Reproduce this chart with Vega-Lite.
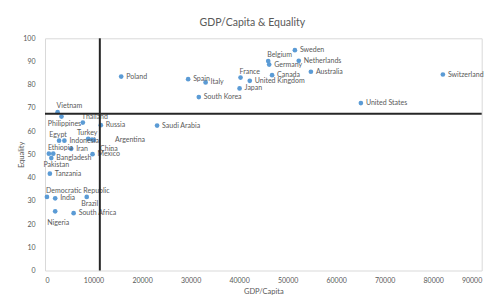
{
  "$schema": "https://vega.github.io/schema/vega-lite/v6.json",
  "width": 436.7,
  "height": 232.2,
  "autosize": "none",
  "padding": {"left": 45, "top": 38.3, "right": 11.3, "bottom": 30.5},
  "title": {"text": "GDP/Capita & Equality", "fontSize": 10.5, "font": "Lato", "fontWeight": "normal", "color": "#595959", "offset": 6, "dx": -11, "anchor": "middle"},
  "datasets": {
    "countries": [
      {"country": "Sweden", "gdp": 51500, "eq": 94.9},
      {"country": "Belgium", "gdp": 46000, "eq": 90.2},
      {"country": "Germany", "gdp": 46200, "eq": 88.7},
      {"country": "Netherlands", "gdp": 52300, "eq": 90.3},
      {"country": "Australia", "gdp": 54800, "eq": 85.6},
      {"country": "Canada", "gdp": 46800, "eq": 84.1},
      {"country": "France", "gdp": 40300, "eq": 83.1},
      {"country": "United Kingdom", "gdp": 42200, "eq": 81.7},
      {"country": "Japan", "gdp": 40100, "eq": 78.4},
      {"country": "Spain", "gdp": 29500, "eq": 82.4},
      {"country": "Italy", "gdp": 33100, "eq": 81.0},
      {"country": "South Korea", "gdp": 31700, "eq": 74.7},
      {"country": "Switzerland", "gdp": 82000, "eq": 84.4},
      {"country": "United States", "gdp": 65100, "eq": 72.1},
      {"country": "Poland", "gdp": 15700, "eq": 83.5},
      {"country": "Saudi Arabia", "gdp": 23100, "eq": 62.4},
      {"country": "Russia", "gdp": 11500, "eq": 62.6},
      {"country": "Thailand", "gdp": 7800, "eq": 63.7},
      {"country": "Vietnam", "gdp": 2600, "eq": 68.2},
      {"country": "Philippines", "gdp": 3400, "eq": 66.3},
      {"country": "Egypt", "gdp": 2900, "eq": 55.9},
      {"country": "Indonesia", "gdp": 4000, "eq": 55.9},
      {"country": "Turkey", "gdp": 8900, "eq": 56.7},
      {"country": "China", "gdp": 9700, "eq": 56.4},
      {"country": "Argentina", "gdp": 10100, "eq": 56.2},
      {"country": "Iran", "gdp": 5400, "eq": 52.4},
      {"country": "Ethiopia", "gdp": 800, "eq": 50.3},
      {"country": "Pakistan", "gdp": 1700, "eq": 50.3},
      {"country": "Bangladesh", "gdp": 1300, "eq": 48.4},
      {"country": "Mexico", "gdp": 9800, "eq": 50.1},
      {"country": "Tanzania", "gdp": 1000, "eq": 41.7},
      {"country": "Democratic Republic", "gdp": 400, "eq": 31.7},
      {"country": "India", "gdp": 2100, "eq": 31.1},
      {"country": "Brazil", "gdp": 8600, "eq": 31.7},
      {"country": "Nigeria", "gdp": 2100, "eq": 25.5},
      {"country": "South Africa", "gdp": 5900, "eq": 24.7}
    ],
    "refx": [{"gdp": 11300}],
    "refy": [{"eq": 67.5}]
  },
  "layer": [
    {
      "data": {"name": "countries"},
      "layer": [
        {"mark": {"type": "point", "filled": true, "size": 22, "color": "#5B9BD5", "opacity": 1}},
        {
          "transform": [{"filter": {"field": "country", "oneOf": ["Sweden", "Netherlands", "Australia", "Germany", "Canada", "United Kingdom", "Japan", "Spain", "Italy", "South Korea", "Switzerland", "United States", "Poland", "Saudi Arabia", "Russia", "Indonesia", "Iran", "Mexico", "Tanzania", "India", "South Africa", "Bangladesh"]}}],
          "mark": {"type": "text", "align": "left", "baseline": "middle", "dx": 5},
          "encoding": {"text": {"field": "country"}}
        },
        {
          "transform": [{"filter": {"field": "country", "oneOf": ["Belgium", "France", "Democratic Republic", "Thailand", "Vietnam", "Ethiopia"]}}],
          "mark": {"type": "text", "align": "left", "baseline": "middle", "dx": -1, "dy": -6},
          "encoding": {"text": {"field": "country"}}
        },
        {
          "transform": [{"filter": {"field": "country", "oneOf": ["Egypt", "Turkey"]}}],
          "mark": {"type": "text", "align": "center", "baseline": "middle", "dx": -1, "dy": -6},
          "encoding": {"text": {"field": "country"}}
        },
        {
          "transform": [{"filter": {"field": "country", "oneOf": ["Philippines", "Brazil"]}}],
          "mark": {"type": "text", "align": "center", "baseline": "middle", "dx": 3, "dy": 7},
          "encoding": {"text": {"field": "country"}}
        },
        {
          "transform": [{"filter": {"field": "country", "oneOf": ["Nigeria", "Pakistan"]}}],
          "mark": {"type": "text", "align": "center", "baseline": "middle", "dx": 3, "dy": 11.5},
          "encoding": {"text": {"field": "country"}}
        },
        {
          "transform": [{"filter": {"field": "country", "oneOf": ["Argentina"]}}],
          "mark": {"type": "text", "align": "left", "baseline": "middle", "dx": 21, "dy": 0},
          "encoding": {"text": {"field": "country"}}
        },
        {
          "transform": [{"filter": {"field": "country", "oneOf": ["China"]}}],
          "mark": {"type": "text", "align": "left", "baseline": "middle", "dx": 8, "dy": 9},
          "encoding": {"text": {"field": "country"}}
        }
      ],
      "encoding": {
        "x": {"field": "gdp", "type": "quantitative", "scale": {"domain": [0, 90000], "nice": false}, "title": "GDP/Capita",
          "axis": {"values": [0, 10000, 20000, 30000, 40000, 50000, 60000, 70000, 80000, 90000], "format": "d", "labelOverlap": false, "titlePadding": 4, "labelPadding": 6}},
        "y": {"field": "eq", "type": "quantitative", "scale": {"domain": [0, 100], "nice": false}, "title": "Equality",
          "axis": {"values": [0, 10, 20, 30, 40, 50, 60, 70, 80, 90, 100], "labelOverlap": false, "titlePadding": -3, "labelPadding": 10}}
      }
    },
    {
      "data": {"name": "refx"},
      "mark": {"type": "rule", "color": "#262626", "strokeWidth": 2},
      "encoding": {"x": {"field": "gdp", "type": "quantitative", "title": "GDP/Capita",
          "axis": {"values": [0, 10000, 20000, 30000, 40000, 50000, 60000, 70000, 80000, 90000], "format": "d", "labelOverlap": false, "titlePadding": 4, "labelPadding": 6}}}
    },
    {
      "data": {"name": "refy"},
      "mark": {"type": "rule", "color": "#262626", "strokeWidth": 2},
      "encoding": {"y": {"field": "eq", "type": "quantitative", "title": "Equality",
          "axis": {"values": [0, 10, 20, 30, 40, 50, 60, 70, 80, 90, 100], "labelOverlap": false, "titlePadding": -3, "labelPadding": 10}}}
    }
  ],
  "config": {
    "font": "Lato",
    "view": {"stroke": "#d9d9d9", "strokeWidth": 1},
    "text": {"fontSize": 7, "color": "#595959", "font": "Lato"},
    "axis": {"grid": false, "ticks": false, "domain": false, "labelFontSize": 7, "labelColor": "#595959", "labelFont": "Lato", "titleFont": "Lato", "titleFontSize": 7.5, "titleColor": "#595959", "titleFontWeight": "normal"}
  }
}
